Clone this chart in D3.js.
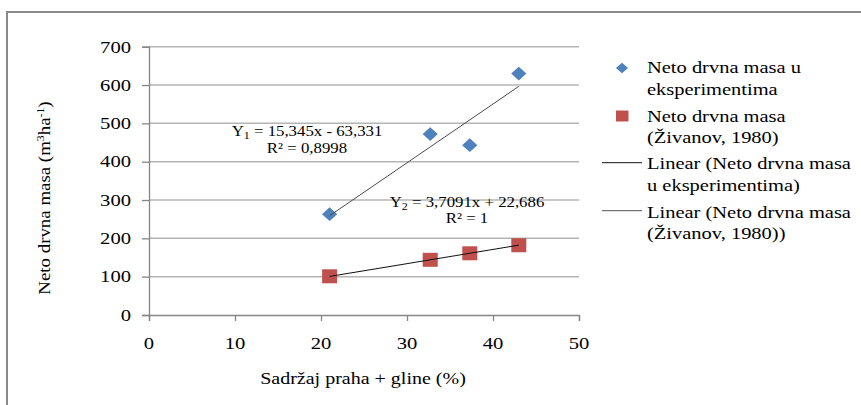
<!DOCTYPE html>
<html>
<head>
<meta charset="utf-8">
<script src="https://cdn.jsdelivr.net/npm/d3@7"></script>
<style>
  html, body { margin: 0; padding: 0; background: #fff; }
  text { font-family: "Liberation Serif", "Times New Roman", serif; fill: #000; }
</style>
</head>
<body>
<div id="chart"></div>
<script>
// data
const xVals = [21, 32.7, 37.3, 43];
const expVals = [263, 472, 443, 630];   // Neto drvna masa u eksperimentima
const zivVals = [101, 144, 161, 182];   // Neto drvna masa (Živanov, 1980)
const slopes = [15.345, 3.7091];
const intercepts = [-63.331, 22.686];
const xTicks = [0, 10, 20, 30, 40, 50];
const yTicks = [0, 100, 200, 300, 400, 500, 600, 700];
const legendLabels = [
  ["Neto drvna masa u", "eksperimentima"],
  ["Neto drvna masa", "(Živanov, 1980)"],
  ["Linear (Neto drvna masa", "u eksperimentima)"],
  ["Linear (Neto drvna masa", "(Živanov, 1980))"]
];

let width = 861;
let height = 405;
let SX = 1.25;   // text in the picture is drawn wide

let svg = d3.select("#chart").append("svg")
  .attr("width", width)
  .attr("height", height);

// outer frame (top and left edges only are visible)
svg.append("path")
  .attr("d", "M7,405 L7,12 L861,12")
  .attr("fill", "none")
  .attr("stroke", "#8a8a8a")
  .attr("stroke-width", 2);

const x = d3.scaleLinear().domain([0, 50]).range([149, 579]);
const y = d3.scaleLinear().domain([0, 700]).range([315, 46.7]);

// wide text helper
function wtext(g, px, py, anchor, size, sx) {
  return g.append("text")
    .attr("text-anchor", anchor)
    .attr("font-size", size)
    .attr("transform", "translate(" + px + "," + py + ") scale(" + (sx || SX) + ",1)");
}

// gridlines
svg.append("g")
  .selectAll("line")
  .data(yTicks.filter(d => d > 0))
  .enter()
  .append("line")
  .attr("x1", x(0)).attr("x2", x(50))
  .attr("y1", d => y(d)).attr("y2", d => y(d))
  .attr("stroke", "#b4b4b4")
  .attr("stroke-width", 1.5);

// axes
const yAxis = svg.append("g")
  .attr("transform", "translate(" + x(0) + ",0)")
  .call(d3.axisLeft(y).tickValues(yTicks).tickSize(7).tickFormat(""));
const xAxis = svg.append("g")
  .attr("transform", "translate(0," + y(0) + ")")
  .call(d3.axisBottom(x).tickValues(xTicks).tickSize(6).tickFormat(""));
[xAxis, yAxis].forEach(a => {
  a.selectAll("path").attr("stroke", "#868686").attr("stroke-width", 1.3);
  a.selectAll("line").attr("stroke", "#868686").attr("stroke-width", 1.3);
});

// tick labels
yTicks.forEach(t => {
  wtext(svg, 131, y(t) + 5.8, "end", 16.5).text(t);
});
xTicks.forEach(t => {
  wtext(svg, x(t), 348.5, "middle", 16.5).text(t);
});

// axis titles
wtext(svg, x(25) - 1, 383.5, "middle", 16).text("Sadržaj praha + gline (%)");
const yt = svg.append("text")
  .attr("text-anchor", "middle")
  .attr("font-size", 16)
  .attr("transform", "translate(50,198) rotate(-90) scale(1.18,1)");
yt.append("tspan").text("Neto drvna masa (m");
yt.append("tspan").attr("font-size", 10).attr("dy", -6).text("3");
yt.append("tspan").attr("dy", 6).text("ha");
yt.append("tspan").attr("font-size", 10).attr("dy", -6).text("-1");
yt.append("tspan").attr("dy", 6).text(")");

// markers
const diamond = d3.symbol().type(d3.symbolSquare);
svg.append("g")
  .selectAll("path")
  .data(xVals.map((d, i) => [d, expVals[i]]))
  .enter()
  .append("path")
  .attr("d", diamond.size(105))
  .attr("transform", d => "translate(" + x(d[0]) + "," + y(d[1]) + ") scale(1.05,0.95) rotate(45)")
  .attr("fill", "#4f81bd");

svg.append("g")
  .selectAll("rect")
  .data(xVals.map((d, i) => [d, zivVals[i]]))
  .enter()
  .append("rect")
  .attr("x", d => x(d[0]) - 7.5)
  .attr("y", d => y(d[1]) - 7)
  .attr("width", 15)
  .attr("height", 14)
  .attr("fill", "#c0504d");

// trendlines
const trendColors = ["#4a4a4a", "#111"];
slopes.forEach((s, i) => {
  const x0 = d3.min(xVals), x1 = d3.max(xVals);
  svg.append("line")
    .attr("x1", x(x0)).attr("y1", y(s * x0 + intercepts[i]))
    .attr("x2", x(x1)).attr("y2", y(s * x1 + intercepts[i]))
    .attr("stroke", trendColors[i])
    .attr("stroke-width", 1);
});

// equation labels
function eqLabel(cx, cy, idx, s, b, r2) {
  const t = wtext(svg, cx, cy, "middle", 14, 1.2);
  t.append("tspan").text("Y");
  t.append("tspan").attr("font-size", 10).attr("dy", 3).text(idx);
  const sign = b < 0 ? " - " : " + ";
  t.append("tspan").attr("dy", -3)
    .text(" = " + String(s).replace(".", ",") + "x" + sign + String(Math.abs(b)).replace(".", ","));
  wtext(svg, cx, cy + 16.5, "middle", 14, 1.2).text("R² = " + r2);
}
eqLabel(307, 136, 1, slopes[0], intercepts[0], "0,8998");
eqLabel(467, 206.5, 2, slopes[1], intercepts[1], "1");

// legend
const lg = svg.append("g");
const rowY = [73.3, 121.7, 169.3, 217.7];
lg.append("path")
  .attr("d", d3.symbol().type(d3.symbolSquare).size(62)())
  .attr("transform", "translate(622,68) scale(1.1,0.95) rotate(45)")
  .attr("fill", "#4f81bd");
lg.append("rect")
  .attr("x", 616).attr("y", 110.5).attr("width", 12.5).attr("height", 11)
  .attr("fill", "#c0504d");
lg.append("line").attr("x1", 602).attr("x2", 642).attr("y1", 162.7).attr("y2", 162.7)
  .attr("stroke", "#111").attr("stroke-width", 1);
lg.append("line").attr("x1", 602).attr("x2", 642).attr("y1", 210.7).attr("y2", 210.7)
  .attr("stroke", "#555").attr("stroke-width", 1);
legendLabels.forEach((lines, i) => {
  lines.forEach((s, j) => {
    wtext(lg, 647, rowY[i] + j * 21.6, "start", 16, 1.28).text(s);
  });
});
</script>
</body>
</html>
